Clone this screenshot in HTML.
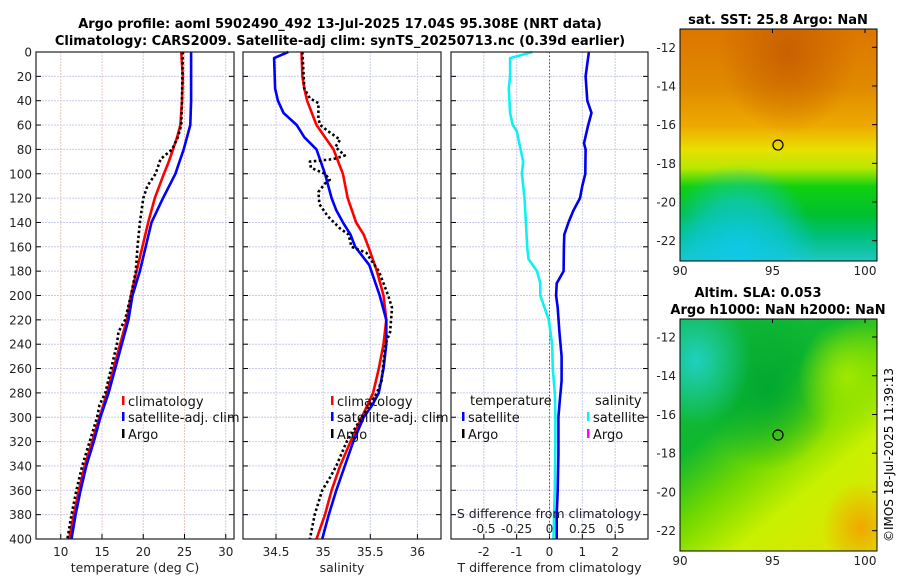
<!DOCTYPE html>
<html><head><meta charset="utf-8"><style>
body{margin:0;background:#fff;}
svg{display:block;font-family:"DejaVu Sans","Liberation Sans",sans-serif;}
</style></head><body>
<svg id="fig" width="900" height="580" viewBox="0 0 900 580">
<g id="titles">
<text x="340" y="28" text-anchor="middle" font-size="13" font-weight="bold">Argo profile: aoml 5902490_492 13-Jul-2025 17.04S 95.308E (NRT data)</text>
<text x="340" y="45" text-anchor="middle" font-size="13" font-weight="bold">Climatology: CARS2009. Satellite-adj clim: synTS_20250713.nc (0.39d earlier)</text>
</g>
<defs>
<linearGradient id="sstg" x1="0" y1="0" x2="0" y2="1">
<stop offset="0" stop-color="#dc7600"/><stop offset="0.25" stop-color="#e08a00"/><stop offset="0.42" stop-color="#eeaa00"/><stop offset="0.52" stop-color="#e8e000"/><stop offset="0.6" stop-color="#b8e800"/><stop offset="0.68" stop-color="#10d010"/><stop offset="0.8" stop-color="#00c030"/><stop offset="0.9" stop-color="#00c080"/><stop offset="1" stop-color="#20c8c0"/>
</linearGradient>
<radialGradient id="cyanblob" cx="0.3" cy="0.98" r="0.4"><stop offset="0" stop-color="#10c8e8"/><stop offset="0.6" stop-color="#10c8e8" stop-opacity="0.6"/><stop offset="1" stop-color="#10c8e8" stop-opacity="0"/></radialGradient>
<radialGradient id="darkor" cx="0.55" cy="0.1" r="0.35"><stop offset="0" stop-color="#c86000"/><stop offset="1" stop-color="#c86000" stop-opacity="0"/></radialGradient>
<linearGradient id="slag" x1="0" y1="0" x2="0.7" y2="1">
<stop offset="0" stop-color="#10b840"/><stop offset="0.4" stop-color="#10b830"/><stop offset="0.6" stop-color="#70d800"/><stop offset="0.8" stop-color="#c8f000"/><stop offset="1" stop-color="#d8e800"/>
</linearGradient>
<radialGradient id="tealblob" cx="0.08" cy="0.18" r="0.28"><stop offset="0" stop-color="#20d0c0"/><stop offset="1" stop-color="#20d0c0" stop-opacity="0"/></radialGradient>
<radialGradient id="orblob" cx="0.92" cy="0.9" r="0.2"><stop offset="0" stop-color="#f0a800"/><stop offset="1" stop-color="#f0a800" stop-opacity="0"/></radialGradient>
<radialGradient id="grblob" cx="0.45" cy="0.3" r="0.35"><stop offset="0" stop-color="#00a830"/><stop offset="1" stop-color="#00a830" stop-opacity="0"/></radialGradient>
<radialGradient id="ylblob" cx="0.85" cy="0.25" r="0.25"><stop offset="0" stop-color="#a0e800"/><stop offset="1" stop-color="#a0e800" stop-opacity="0"/></radialGradient>
</defs>
<g id="maps">
<text x="778" y="24" text-anchor="middle" font-size="13" font-weight="bold">sat. SST: 25.8 Argo: NaN</text>
<rect x="680" y="29" width="197" height="232" fill="url(#sstg)"/>
<rect x="680" y="29" width="197" height="232" fill="url(#darkor)"/>
<rect x="680" y="29" width="197" height="232" fill="url(#cyanblob)"/>
<rect x="680" y="29" width="197" height="232" fill="none" stroke="#000" stroke-width="1"/>
<circle cx="778" cy="145" r="5" fill="none" stroke="#000" stroke-width="1.2"/>
<text x="758" y="297" text-anchor="middle" font-size="13" font-weight="bold">Altim. SLA: 0.053</text>
<text x="778" y="314" text-anchor="middle" font-size="13" font-weight="bold">Argo h1000: NaN h2000: NaN</text>
<rect x="680" y="319" width="197" height="232" fill="url(#slag)"/>
<rect x="680" y="319" width="197" height="232" fill="url(#grblob)"/>
<rect x="680" y="319" width="197" height="232" fill="url(#ylblob)"/>
<rect x="680" y="319" width="197" height="232" fill="url(#tealblob)"/>
<rect x="680" y="319" width="197" height="232" fill="url(#orblob)"/>
<rect x="680" y="319" width="197" height="232" fill="none" stroke="#000" stroke-width="1"/>
<circle cx="778" cy="435" r="5" fill="none" stroke="#000" stroke-width="1.2"/>
<text transform="translate(893,455) rotate(-90)" text-anchor="middle" font-size="12">©IMOS 18-Jul-2025 11:39:13</text>
</g>
<g id="plots"></g>
</svg>
<script>
// ---- data (depth in m) ----
const depthT=[0,20,40,60,70,80,90,100,120,140,160,180,200,220,240,260,280,300,320,340,360,380,400];
const tempClim=[24.6,24.8,24.7,24.5,24.1,23.6,23.1,22.5,21.4,20.6,19.9,19.2,18.5,18.0,17.2,16.4,15.6,14.7,13.8,12.9,12.2,11.6,11.0];
const tempSat=[25.8,25.8,25.8,25.7,25.3,24.9,24.4,23.9,22.4,21.0,20.3,19.6,18.7,18.2,17.4,16.6,15.8,14.8,14.0,13.1,12.4,11.8,11.3];
const depthArgoT=[0,40,60,70,80,88,92,100,110,120,140,160,180,200,220,230,240,260,280,290,300,320,340,360,380,400];
const tempArgo=[24.8,24.7,24.6,24.2,23.5,22.1,21.9,21.5,20.5,20.0,19.6,19.3,19.1,18.5,17.8,17.0,16.8,16.1,15.4,14.7,14.4,13.5,12.6,11.9,11.3,10.8];
const depthS=[0,20,30,40,50,60,70,80,90,100,120,140,150,160,180,200,220,240,260,280,300,320,340,360,380,400];
const salClim=[34.77,34.78,34.80,34.83,34.88,34.93,35.02,35.11,35.16,35.21,35.26,35.35,35.43,35.48,35.57,35.64,35.67,35.64,35.59,35.53,35.41,35.29,35.18,35.09,35.02,34.93];
const depthSS=[0,5,30,40,50,60,70,80,100,120,130,140,150,160,175,200,220,240,260,280,290,300,320,340,360,380,400];
const salSat=[34.63,34.48,34.49,34.52,34.58,34.72,34.80,34.93,35.02,35.09,35.14,35.21,35.29,35.34,35.49,35.60,35.67,35.67,35.64,35.59,35.52,35.43,35.32,35.23,35.14,35.06,34.99];
const depthSA=[0,30,38,42,55,60,65,72,78,85,88,90,95,100,105,108,115,125,135,145,150,160,165,170,180,200,210,230,240,270,280,300,320,340,350,360,380,400];
const salArgo=[34.78,34.80,34.86,34.95,34.95,34.97,35.05,35.18,35.13,35.23,35.11,34.86,34.87,35.02,35.07,35.02,34.95,34.96,35.05,35.18,35.27,35.30,35.46,35.50,35.59,35.69,35.73,35.71,35.66,35.62,35.57,35.41,35.25,35.14,35.07,34.99,34.91,34.86];
const depthDT=[0,20,40,50,60,75,80,100,110,120,130,140,150,160,180,190,200,210,230,250,270,290,300,330,360,380,400];
const tDiffSat=[1.2,1.1,1.15,1.28,1.18,1.05,1.1,1.09,1.0,0.93,0.73,0.58,0.45,0.44,0.43,0.22,0.2,0.25,0.3,0.37,0.37,0.3,0.27,0.27,0.25,0.22,0.22];
const depthDS=[0,5,20,30,50,60,65,80,90,100,110,120,140,160,170,180,190,200,220,240,260,280,300,320,360,380,400];
const sDiffSat=[-0.13,-0.30,-0.30,-0.31,-0.30,-0.28,-0.25,-0.22,-0.20,-0.21,-0.20,-0.19,-0.18,-0.17,-0.16,-0.095,-0.07,-0.07,-0.005,0.02,0.025,0.04,0.045,0.045,0.04,0.035,0.03];
const depthTicks=[0,20,40,60,80,100,120,140,160,180,200,220,240,260,280,300,320,340,360,380,400];
const tTicks=[10,15,20,25,30];
const sTicks=[34.5,35,35.5,36];
const dTTicks=[-2,-1,0,1,2];
const dSTicks=[-0.5,-0.25,0,0.25,0.5];
const dSTickLabels=["-0.5","-0.25","0","0.25","0.5"];
const latTicks=[-12,-14,-16,-18,-20,-22];
const lonTicks=[90,95,100];

const NS='http://www.w3.org/2000/svg';
const root=document.getElementById('plots');
function mk(tag,attrs,parent){const e=document.createElementNS(NS,tag);for(const k in attrs)e.setAttribute(k,attrs[k]);(parent||root).appendChild(e);return e;}
const Y0=52,Y1=539;
function yD(d){return Y0+(d/400)*(Y1-Y0);}
function scale(d0,d1,p0,p1){return v=>p0+(v-d0)/(d1-d0)*(p1-p0);}
const panels=[
 {x0:36,x1:234,sx:scale(7,31,36,234),ticks:tTicks,name:'temperature-panel',label:'temperature (deg C)'},
 {x0:243,x1:441,sx:scale(34.15,36.25,243,441),ticks:sTicks,name:'salinity-panel',label:'salinity'},
 {x0:451,x1:648,sx:scale(-3,3,451,648),ticks:dTTicks,name:'difference-panel',label:'T difference from climatology'}
];
function line(xs,ds,sx,color,dash,name){
 let p='';xs.forEach((v,i)=>{p+=(i?'L':'M')+sx(v).toFixed(1)+','+yD(ds[i]).toFixed(1);});
 const e=mk('path',{d:p,fill:'none',stroke:color,'stroke-width':2.6,'stroke-linejoin':'round'});
 if(dash)e.setAttribute('stroke-dasharray',dash);
 
 
}
panels.forEach((P,pi)=>{
 const g=mk('g',{});
 
 
 depthTicks.forEach(d=>{
  const y=yD(d);
  mk('line',{x1:P.x0,x2:P.x1,y1:y,y2:y,stroke:'#c8cce8','stroke-width':1,'stroke-dasharray':'2,1'},g);
  mk('line',{x1:P.x0,x2:P.x0+5,y1:y,y2:y,stroke:'#000'},g);
  mk('line',{x1:P.x1-5,x2:P.x1,y1:y,y2:y,stroke:'#000'},g);
  if(pi===0){const t=mk('text',{x:32,y:y+4.5,'text-anchor':'end','font-size':12,fill:'#222'},g);t.textContent=d;
   
   }
 });
 P.ticks.forEach(v=>{
  const x=P.sx(v);
  mk('line',{x1:x,x2:x,y1:Y0,y2:Y1,stroke:pi===0?'#e8c8c0':'#c8cce8','stroke-width':1,'stroke-dasharray':'2,1'},g);
  mk('line',{x1:x,x2:x,y1:Y1-5,y2:Y1,stroke:'#000'},g);
  const t=mk('text',{x:x,y:556,'text-anchor':'middle','font-size':12,fill:'#222'},g);t.textContent=v;
  
  
 });
 const xl=mk('text',{x:(P.x0+P.x1)/2,y:572,'text-anchor':'middle','font-size':12.5,fill:'#222'},g);xl.textContent=P.label;
 
 
});
line(tempClim,depthT,panels[0].sx,'#f00',null,'temp-climatology-line');
line(tempSat,depthT,panels[0].sx,'#00f',null,'temp-satellite-line');
line(tempArgo,depthArgoT,panels[0].sx,'#000','2.5,2.5','temp-argo-line');
line(salClim,depthS,panels[1].sx,'#f00',null,'sal-climatology-line');
line(salSat,depthSS,panels[1].sx,'#00f',null,'sal-satellite-line');
line(salArgo,depthSA,panels[1].sx,'#000','2.5,2.5','sal-argo-line');
const zx=panels[2].sx(0);
const zl=mk('line',{x1:zx,x2:zx,y1:Y0,y2:Y1,stroke:'#556b2f','stroke-width':1,'stroke-dasharray':'1.5,2'});


const sxS=v=>panels[2].sx(v*4);
line(sDiffSat,depthDS,sxS,'#10f0f0',null,'sal-diff-satellite-line');
line(tDiffSat,depthDT,panels[2].sx,'#0000f0',null,'temp-diff-satellite-line');
const sdl=mk('text',{x:549,y:518,'text-anchor':'middle','font-size':12.5,fill:'#222'});sdl.textContent='S difference from climatology';


dSTicks.forEach((v,i)=>{const t=mk('text',{x:sxS(v),y:533,'text-anchor':'middle','font-size':12,fill:'#222'});t.textContent=dSTickLabels[i];
 
 });
panels.forEach(P=>{mk('rect',{x:P.x0,y:Y0,width:P.x1-P.x0,height:Y1-Y0,fill:'none',stroke:'#222','stroke-width':1.2});});
function leg(x,y,color,label,name){
 const g=mk('g',{});
 
 
 if(color)mk('rect',{x:x,y:y-10,width:2.5,height:9,fill:color},g);
 const t=mk('text',{x:x+6,y:y,'font-size':13,fill:'#111'},g);t.textContent=label;
}
leg(122,406,'#f00','climatology','legend-climatology');
leg(122,422,'#00f','satellite-adj. clim','legend-satellite-adj');
leg(122,439,'#000','Argo','legend-argo');
leg(331,406,'#f00','climatology','legend-sal-climatology');
leg(331,422,'#00f','satellite-adj. clim','legend-sal-satellite-adj');
leg(331,439,'#000','Argo','legend-sal-argo');
leg(464,405,null,'temperature','legend-temperature-header');
leg(462,422,'#00f','satellite','legend-t-satellite');
leg(462,439,'#000','Argo','legend-t-argo');
leg(589,405,null,'salinity','legend-salinity-header');
leg(587,422,'#10f0f0','satellite','legend-s-satellite');
leg(587,439,'#f0f','Argo','legend-s-argo');
const latY1=scale(-12,-22,47.3,240.7), latY2=scale(-12,-22,337,530.7), lonX=scale(90,100,680,865);
[[latY1,29,261],[latY2,319,551]].forEach(([fy,top,bot])=>{
 latTicks.forEach(v=>{const y=fy(v);
  mk('line',{x1:872,x2:877,y1:y,y2:y,stroke:'#000'});
  const t=mk('text',{x:676,y:y+4.5,'text-anchor':'end','font-size':12,fill:'#222'});t.textContent=v;
  
  });
 lonTicks.forEach(v=>{const x=lonX(v);
  mk('line',{x1:x,x2:x,y1:top,y2:top+4,stroke:'#000'});
  const t=mk('text',{x:x,y:bot+14,'text-anchor':'middle','font-size':12,fill:'#222'});t.textContent=v;
  
  });
});
</script>
</body></html>
